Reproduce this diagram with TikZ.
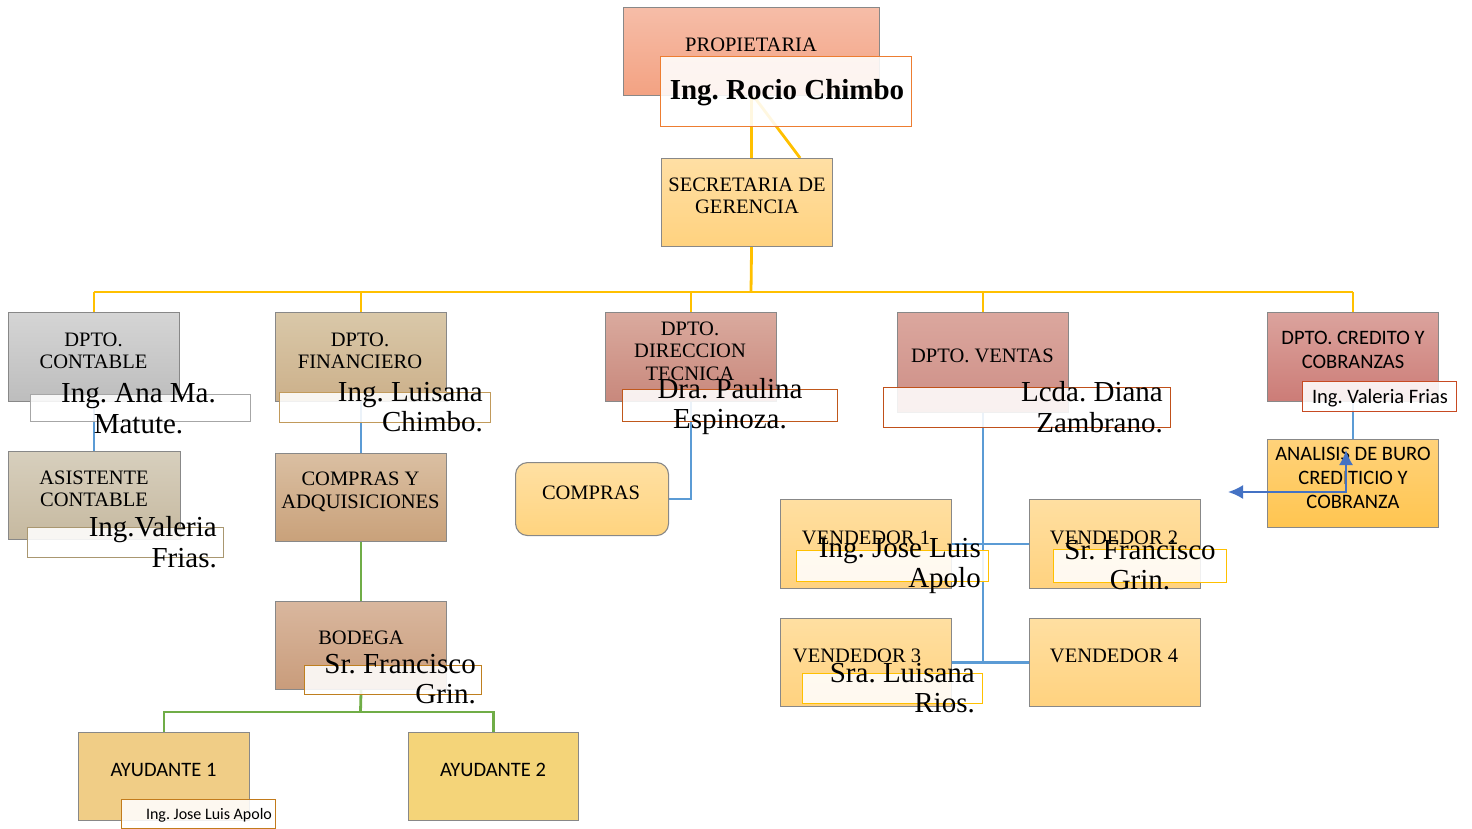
\documentclass[tikz,border=0pt]{standalone}
\usepackage{fontspec}
\setmainfont{Liberation Serif}
\newfontfamily\calib{Carlito}
\usetikzlibrary{arrows.meta,backgrounds}
\frenchspacing
\definecolor{bordergray}{HTML}{888888}
\definecolor{propT}{HTML}{F6BDA8}\definecolor{propB}{HTML}{F3A282}
\definecolor{secT}{HTML}{FFDFA4}\definecolor{secB}{HTML}{FFD27F}
\definecolor{contT}{HTML}{D5D5D5}\definecolor{contB}{HTML}{BDBDBD}
\definecolor{finT}{HTML}{D9C8A9}\definecolor{finB}{HTML}{CCB08A}
\definecolor{dirT}{HTML}{DAAA9E}\definecolor{dirB}{HTML}{C8887C}
\definecolor{venT}{HTML}{DBA79E}\definecolor{venB}{HTML}{CD8E86}
\definecolor{credT}{HTML}{DBA39D}\definecolor{credB}{HTML}{CC7C77}
\definecolor{anaT}{HTML}{FFD27A}\definecolor{anaB}{HTML}{FFC550}
\definecolor{asisT}{HTML}{D7CFBD}\definecolor{asisB}{HTML}{C6B9A0}
\definecolor{cyaT}{HTML}{DABFA2}\definecolor{cyaB}{HTML}{C9A17A}
\definecolor{bodT}{HTML}{D9B79E}\definecolor{bodB}{HTML}{C99C7B}
\definecolor{compT}{HTML}{FFE0A3}\definecolor{compB}{HTML}{FFD47F}
\definecolor{vT}{HTML}{FFDFA1}\definecolor{vB}{HTML}{FFD27F}
\definecolor{ayA}{HTML}{F0CD86}\definecolor{ayB}{HTML}{F4D479}
\definecolor{cRocio}{HTML}{ED7D31}\definecolor{cAna}{HTML}{A6A6A6}
\definecolor{cLui}{HTML}{C19A5B}\definecolor{cVal}{HTML}{A99770}
\definecolor{cPau}{HTML}{C0581B}\definecolor{cDia}{HTML}{C0501A}
\definecolor{cCred}{HTML}{C74A22}\definecolor{cV}{HTML}{FFC000}
\definecolor{cBod}{HTML}{BF7F1F}\definecolor{cAy}{HTML}{C27B1C}
\definecolor{lnY}{HTML}{FFC000}\definecolor{lnB}{HTML}{5B9BD5}
\definecolor{lnG}{HTML}{70AD47}\definecolor{arrB}{HTML}{4472C4}
\tikzset{
  bx/.style={draw=bordergray, line width=1.1pt, rectangle, inner sep=0pt, anchor=north west},
  wh/.style 2 args={minimum width=#1pt, minimum height=#2pt},
  gradbox/.style 2 args={top color=#1, bottom color=#2},
  bxt/.style={inner sep=0pt, align=center, font=\fontsize{20.5}{22.5}\selectfont},
  bxs/.style={inner sep=0pt, align=center, font=\calib\fontsize{20.5}{24}\selectfont},
  lb/.style={draw=#1, fill=white, fill opacity=0.88, line width=1.1pt, rectangle, inner sep=0pt, anchor=north west},
  lt/.style={inner sep=0pt, font=\fontsize{29}{30.5}\selectfont},
  yl/.style={draw=lnY, line width=2.8pt},
  bl/.style={draw=lnB, line width=2.5pt},
  gr/.style={draw=lnG, line width=2.8pt},
  arr/.style={draw=arrB, line width=2pt, {Latex[length=15pt,width=14pt]}-{Latex[length=15pt,width=14pt]}}
}
\begin{document}
\begin{tikzpicture}[x=1pt,y=-1pt]
\useasboundingbox (0,0) rectangle (1472,829);
% ---- boxes ----
\path
  node[bx, wh={256}{88}, gradbox={propT}{propB}] (prop) at (623,7) {}
  node[bx, wh={171}{88}, gradbox={secT}{secB}] (sec) at (661,158) {}
  node[bx, wh={171}{89}, gradbox={contT}{contB}] (cont) at (8,312) {}
  node[bx, wh={171}{89}, gradbox={finT}{finB}] (fin) at (275,312) {}
  node[bx, wh={171}{89}, gradbox={dirT}{dirB}] (dir) at (605,312) {}
  node[bx, wh={171}{100}, gradbox={venT}{venB}] (ven) at (897,312) {}
  node[bx, wh={171}{89}, gradbox={credT}{credB}] (cred) at (1267,312) {}
  node[bx, wh={171}{88}, gradbox={anaT}{anaB}] (ana) at (1267,439) {}
  node[bx, wh={172}{88}, gradbox={asisT}{asisB}] (asis) at (8,451) {}
  node[bx, wh={171}{88}, gradbox={cyaT}{cyaB}] (cya) at (275,453) {}
  node[bx, wh={171}{88}, gradbox={bodT}{bodB}] (bod) at (275,601) {}
  node[bx, wh={153}{73}, rounded corners=12pt, gradbox={compT}{compB}] (comp) at (515,462) {}
  node[bx, wh={171}{89}, gradbox={vT}{vB}] (v1) at (780,499) {}
  node[bx, wh={171}{89}, gradbox={vT}{vB}] (v2) at (1029,499) {}
  node[bx, wh={171}{88}, gradbox={vT}{vB}] (v3) at (780,618) {}
  node[bx, wh={171}{88}, gradbox={vT}{vB}] (v4) at (1029,618) {}
  node[bx, wh={171}{88}, fill=ayA] (ay1) at (78,732) {}
  node[bx, wh={170}{88}, fill=ayB] (ay2) at (408,732) {};
% ---- connectors (behind boxes) ----
\coordinate (bus) at (751,292);
\coordinate (gbus) at (360.5,712);
\begin{pgfonlayer}{background}
  \draw[yl] (prop.south) -- (prop.south |- sec.north);
  \draw[yl] ([xshift=2pt]prop.south) -- ([xshift=-33pt]sec.north east);
  \draw[yl] (prop.south |- sec.south) -- (bus);
  \draw[yl] (cont.north |- bus) -- (cred.north |- bus);
  \foreach \n in {cont,fin,dir,ven,cred} \draw[yl] (\n.north) -- (\n.north |- bus);
  \draw[bl] (cont.south) -- (cont.south |- asis.north);
  \draw[bl] (fin.south) -- (fin.south |- cya.north);
  \draw[bl] (dir.south) |- (comp.east);
  \draw[bl] (ven.south) -- (ven.south |- v3.east);
  \draw[bl] (v1.east) -- (v2.west);
  \draw[bl] (v3.east) -- (v4.west);
  \draw[bl] (cred.south) -- (ana.north);
  \draw[gr] (cya.south) -- (bod.north);
  \draw[gr] (bod.south) -- (gbus);
  \draw[gr] (ay1.north) |- (gbus) -| (ay2.north);
\end{pgfonlayer}
% ---- box texts ----
\node[bxt] (propT) at (751,45) {PROPIETARIA};
\node[bxt] (secTx) at (747,196) {SECRETARIA DE\\GERENCIA};
\node[bxt] (contTx) at (93.5,351) {DPTO.\\CONTABLE};
\node[bxt] (finTx) at (360,351) {DPTO.\\FINANCIERO};
\node[bxt] (dirTx) at (690,351) {DPTO.\\DIRECCION\\TECNICA};
\node[bxt] (venTx) at (982.5,356) {DPTO. VENTAS};
\node[bxs] (credTx) at (1353,350) {DPTO. CREDITO Y\\COBRANZAS};
\node[bxs] (anaTx) at (1353,478) {ANALISIS DE BURO\\CREDITICIO Y\\COBRANZA};
\node[bxt] (asisTx) at (94,489) {ASISTENTE\\CONTABLE};
\node[bxt] (cyaTx) at (360.5,492) {COMPRAS Y\\ADQUISICIONES};
\node[bxt] (bodTx) at (361,638) {BODEGA};
\node[bxt] (compTx) at (591,493) {COMPRAS};
\node[bxt] (v1Tx) at (866,538) {VENDEDOR 1};
\node[bxt] (v2Tx) at (1114,538) {VENDEDOR 2};
\node[bxt] (v3Tx) at (857,656) {VENDEDOR 3};
\node[bxt] (v4Tx) at (1114,656) {VENDEDOR 4};
\node[bxs] (ay1Tx) at (163.5,770) {AYUDANTE 1};
\node[bxs] (ay2Tx) at (493,770) {AYUDANTE 2};
% ---- blue double arrow ----
\coordinate (arrL) at (1228,492);
\coordinate (arrC) at (1346,492);
\coordinate (arrT) at (1346,450);
\draw[arr] (arrL) -- (arrC) -- (arrT);
% ---- label boxes ----
\path
  node[lb=cRocio, wh={251}{70}] (lRocio) at (660,56) {}
  node[lb=cAna, wh={220}{27}] (lAna) at (29.5,394) {}
  node[lb=cLui, wh={211}{30}] (lLui) at (278.5,392) {}
  node[lb=cVal, wh={196}{29.5}] (lVal) at (27,527) {}
  node[lb=cPau, wh={215}{32}] (lPau) at (622,389) {}
  node[lb=cDia, wh={287}{40.5}] (lDia) at (882.5,386.5) {}
  node[lb=cCred, wh={154}{30}] (lCred) at (1301.5,380.7) {}
  node[lb=cV, wh={192}{30.5}] (lV1) at (795.5,550) {}
  node[lb=cV, wh={173}{33}] (lV2) at (1053,548.5) {}
  node[lb=cV, wh={180}{30}] (lV3) at (801.5,672.7) {}
  node[lb=cBod, wh={177}{29.5}] (lBod) at (304,664.5) {}
  node[lb=cAy, wh={154}{29}] (lAy1) at (121,799) {};
% ---- label texts ----
\node[inner sep=0pt, font=\bfseries\fontsize{29}{30}\selectfont, anchor=base] (tRocio) at (787,99.3) {Ing. Rocio Chimbo};
\node[lt, align=center] (tAna) at (138.5,408.5) {Ing. Ana Ma.\\Matute.};
\node[lt, align=right, anchor=east] (tLui) at (483,407) {Ing. Luisana\\Chimbo.};
\node[lt, align=right, anchor=east] (tVal) at (217,542) {Ing.Valeria\\Frias.};
\node[lt, align=center] (tPau) at (730,406.5) {Dra. Paulina\\Espinoza.};
\node[lt, align=right, anchor=east] (tDia) at (1163,407) {Lcda. Diana\\Zambrano.};
\node[inner sep=0pt, font=\calib\fontsize{20.5}{24}\selectfont, anchor=base] (tCred) at (1380,403) {Ing. Valeria Frias};
\node[lt, align=right, anchor=east] (tV1) at (981,566) {Ing. Jose Luis\\Apolo};
\node[lt, align=center] (tV2) at (1140,565) {Sr. Francisco\\Grin.};
\node[lt, align=right, anchor=east] (tV3) at (975,688) {Sra. Luisana\\Rios.};
\node[lt, align=right, anchor=east] (tBod) at (476,679) {Sr. Francisco\\Grin.};
\node[inner sep=0pt, font=\calib\fontsize{16}{18}\selectfont, anchor=base] (tAy1) at (209,819.5) {Ing. Jose Luis Apolo};
\end{tikzpicture}
\end{document}
